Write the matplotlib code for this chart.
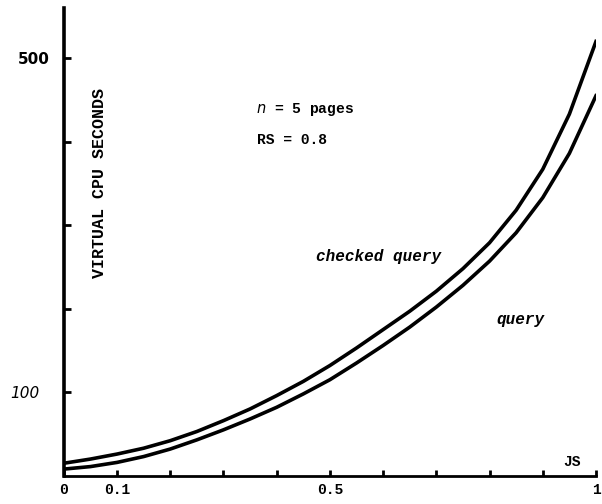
import matplotlib.pyplot as plt
from matplotlib.transforms import ScaledTranslation

# JS values
js = [0.0, 0.05, 0.1, 0.15, 0.2, 0.25, 0.3, 0.35, 0.4, 0.45, 0.5,
      0.55, 0.6, 0.65, 0.7, 0.75, 0.8, 0.85, 0.9, 0.95, 1.0]
# virtual CPU seconds
checked_query = [15, 20, 26, 33, 42, 53, 66, 80, 96, 113, 132,
                 153, 175, 197, 221, 248, 279, 318, 367, 433, 520]
query = [8, 11, 16, 23, 32, 43, 55, 68, 82, 98, 115,
         135, 156, 178, 202, 228, 257, 291, 333, 386, 455]

x_ticks = [0.0, 0.1, 0.2, 0.3, 0.4, 0.5, 0.6, 0.7, 0.8, 0.9, 1.0]
x_labels = ['0', '0.1', '', '', '', '0.5', '', '', '', '', '1']
y_ticks = [100, 200, 300, 400, 500]
y_labels = ['100', '', '', '', '500']

mono = 'Liberation Mono'

fig = plt.figure(figsize=(6.02, 5.04), dpi=100)
ax = fig.add_axes([0.106, 0.056, 0.884, 0.928])

ax.plot(js, checked_query, color='black', lw=2.6, solid_joinstyle='round')
ax.plot(js, query, color='black', lw=2.6, solid_joinstyle='round')

ax.set_xlim(0, 1)
ax.set_ylim(0, 560)

for side in ['top', 'right']:
    ax.spines[side].set_visible(False)
ax.spines['left'].set_linewidth(2.6)
ax.spines['bottom'].set_linewidth(2.0)

ax.set_xticks(x_ticks)
ax.set_xticklabels(x_labels, family=mono, weight='bold', fontsize=10.5)
ax.set_yticks(y_ticks)
ax.set_yticklabels(y_labels, fontsize=11)
ax.tick_params(axis='x', direction='in', length=4, width=2, pad=5)
ax.tick_params(axis='y', direction='in', length=5, width=2, pad=10)
ylabs = ax.get_yticklabels()
ylabs[0].set_style('italic')
ylabs[0].set_transform(ylabs[0].get_transform() + ScaledTranslation(-0.1, 0, fig.dpi_scale_trans))
ylabs[4].set_weight('bold')

ax.text(0.068, 350, 'VIRTUAL CPU SECONDS', rotation=90, ha='center', va='center',
        family=mono, weight='bold', fontsize=12)
ax.text(0.453, 438, r'$n$ = 5 pages', ha='center', va='center',
        family=mono, weight='bold', fontsize=10.5)
ax.text(0.429, 402, 'RS = 0.8', ha='center', va='center',
        family=mono, weight='bold', fontsize=10.5)
ax.text(0.592, 263, 'checked query', ha='center', va='center',
        family=mono, style='italic', weight='bold', fontsize=11.5)
ax.text(0.859, 187, 'query', ha='center', va='center',
        family=mono, style='italic', weight='bold', fontsize=11.5)
ax.text(0.955, 16, 'JS', ha='center', va='center',
        family=mono, weight='bold', fontsize=10.5)

fig.savefig('out.png', dpi=100)
plt.close()
